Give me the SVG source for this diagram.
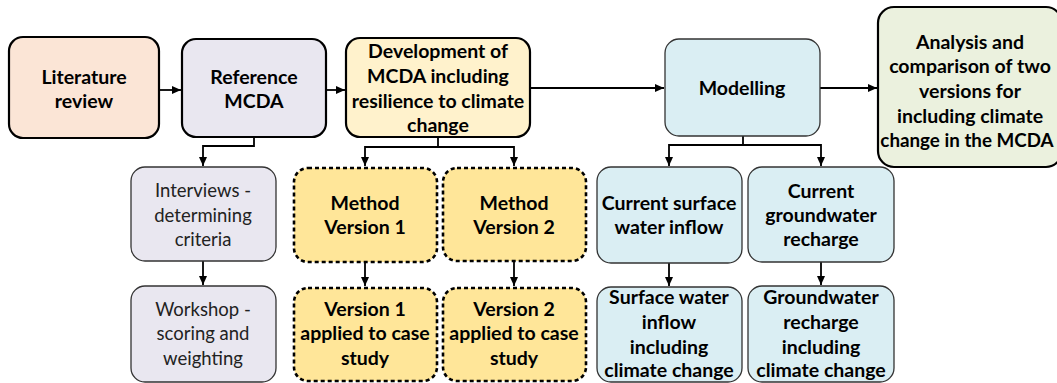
<svg xmlns="http://www.w3.org/2000/svg" width="1057" height="383" viewBox="0 0 1057 383">
<defs>
<marker id="ah" markerWidth="10" markerHeight="10" refX="9" refY="5" orient="auto" markerUnits="userSpaceOnUse">
<path d="M0,1 L9,5 L0,9 Z" fill="#000"/>
</marker>
<style>
.t{font-family:Lato,"Open Sans","Liberation Sans",sans-serif;font-size:19.5px;font-weight:bold;fill:#000;text-anchor:middle}
.n{font-family:Lato,"Open Sans","Liberation Sans",sans-serif;font-size:18.5px;font-weight:normal;fill:#222;text-anchor:middle}
.thick{stroke:#000;stroke-width:2.2}
.thin{stroke:#333;stroke-width:1.3}
.dash{stroke:#000;stroke-width:2.6;stroke-dasharray:4 3}
.c{fill:none;stroke:#000;stroke-width:1.8}
</style>
</defs>
<rect width="1057" height="383" fill="#fff"/>
<g id="connectors">
<path class="c" d="M159,90 H181" marker-end="url(#ah)"/>
<path class="c" d="M326,90 H345" marker-end="url(#ah)"/>
<path class="c" d="M530,88 H664" marker-end="url(#ah)"/>
<path class="c" d="M820,88 H877" marker-end="url(#ah)"/>
<path class="c" d="M254,137 V146 H203 V166" marker-end="url(#ah)"/>
<path class="c" d="M203,261 V285" marker-end="url(#ah)"/>
<path class="c" d="M438,137 V147 H514 V166" marker-end="url(#ah)"/>
<path class="c" d="M438,147 H365 V166" marker-end="url(#ah)"/>
<path class="c" d="M365,262 V286" marker-end="url(#ah)"/>
<path class="c" d="M514,261 V286" marker-end="url(#ah)"/>
<path class="c" d="M743,136 V145 H669 V166" marker-end="url(#ah)"/>
<path class="c" d="M743,145 H821 V166" marker-end="url(#ah)"/>
<path class="c" d="M669,263 V286" marker-end="url(#ah)"/>
<path class="c" d="M821,262 V285" marker-end="url(#ah)"/>
</g>
<g id="literature">
<rect class="thick" x="9" y="37" width="150" height="101" rx="14" fill="#FBE5D6"/>
<text class="t" x="84" y="84">Literature</text>
<text class="t" x="84" y="108">review</text>
</g>
<g id="reference">
<rect class="thick" x="182" y="39" width="144" height="98" rx="14" fill="#E9E7F0"/>
<text class="t" x="254" y="84">Reference</text>
<text class="t" x="254" y="108">MCDA</text>
</g>
<g id="development">
<rect class="thick" x="346" y="38" width="184" height="99" rx="14" fill="#FFF2CC"/>
<text class="t" x="438" y="58">Development of</text>
<text class="t" x="438" y="83">MCDA including</text>
<text class="t" x="438" y="108">resilience to climate</text>
<text class="t" x="438" y="132">change</text>
</g>
<g id="modelling">
<rect class="thin" x="665" y="39" width="155" height="97" rx="14" fill="#DAEEF3"/>
<text class="t" x="742" y="95">Modelling</text>
</g>
<g id="analysis">
<rect class="thick" x="878" y="7" width="184" height="160" rx="16" fill="#EBF1DE"/>
<text class="t" x="970" y="49">Analysis and</text>
<text class="t" x="970" y="73">comparison of two</text>
<text class="t" x="970" y="98">versions for</text>
<text class="t" x="970" y="123">including climate</text>
<text class="t" x="967" y="147" style="font-size:18.8px">change in the MCDA</text>
</g>
<g id="interviews">
<rect class="thin" x="131" y="167" width="145" height="94" rx="14" fill="#E9E7F0"/>
<text class="n" x="203" y="197">Interviews -</text>
<text class="n" x="203" y="222">determining</text>
<text class="n" x="203" y="246">criteria</text>
</g>
<g id="workshop">
<rect class="thin" x="131" y="286" width="145" height="96" rx="14" fill="#E9E7F0"/>
<text class="n" x="203" y="316">Workshop -</text>
<text class="n" x="203" y="340">scoring and</text>
<text class="n" x="203" y="365">weighting</text>
</g>
<g id="method1">
<rect class="dash" x="294" y="168" width="143" height="94" rx="14" fill="#FFE699"/>
<text class="t" x="365" y="210">Method</text>
<text class="t" x="365" y="234">Version 1</text>
</g>
<g id="method2">
<rect class="dash" x="443" y="168" width="143" height="93" rx="14" fill="#FFE699"/>
<text class="t" x="514" y="210">Method</text>
<text class="t" x="514" y="234">Version 2</text>
</g>
<g id="applied1">
<rect class="dash" x="294" y="288" width="143" height="93" rx="14" fill="#FFE699"/>
<text class="t" x="365" y="316">Version 1</text>
<text class="t" x="365" y="340">applied to case</text>
<text class="t" x="365" y="365">study</text>
</g>
<g id="applied2">
<rect class="dash" x="443" y="288" width="143" height="93" rx="14" fill="#FFE699"/>
<text class="t" x="514" y="316">Version 2</text>
<text class="t" x="514" y="340">applied to case</text>
<text class="t" x="514" y="365">study</text>
</g>
<g id="surface-current">
<rect class="thin" x="597" y="167" width="145" height="96" rx="14" fill="#DAEEF3"/>
<text class="t" x="669" y="210">Current surface</text>
<text class="t" x="669" y="234">water inflow</text>
</g>
<g id="groundwater-current">
<rect class="thin" x="748" y="167" width="146" height="95" rx="14" fill="#DAEEF3"/>
<text class="t" x="821" y="198">Current</text>
<text class="t" x="821" y="222">groundwater</text>
<text class="t" x="821" y="246">recharge</text>
</g>
<g id="surface-climate">
<rect class="thin" x="597" y="287" width="145" height="95" rx="14" fill="#DAEEF3"/>
<text class="t" x="669" y="304">Surface water</text>
<text class="t" x="669" y="329">inflow</text>
<text class="t" x="669" y="354">including</text>
<text class="t" x="669" y="377">climate change</text>
</g>
<g id="groundwater-climate">
<rect class="thin" x="748" y="286" width="146" height="96" rx="14" fill="#DAEEF3"/>
<text class="t" x="821" y="304">Groundwater</text>
<text class="t" x="821" y="329">recharge</text>
<text class="t" x="821" y="354">including</text>
<text class="t" x="821" y="377">climate change</text>
</g>
</svg>
